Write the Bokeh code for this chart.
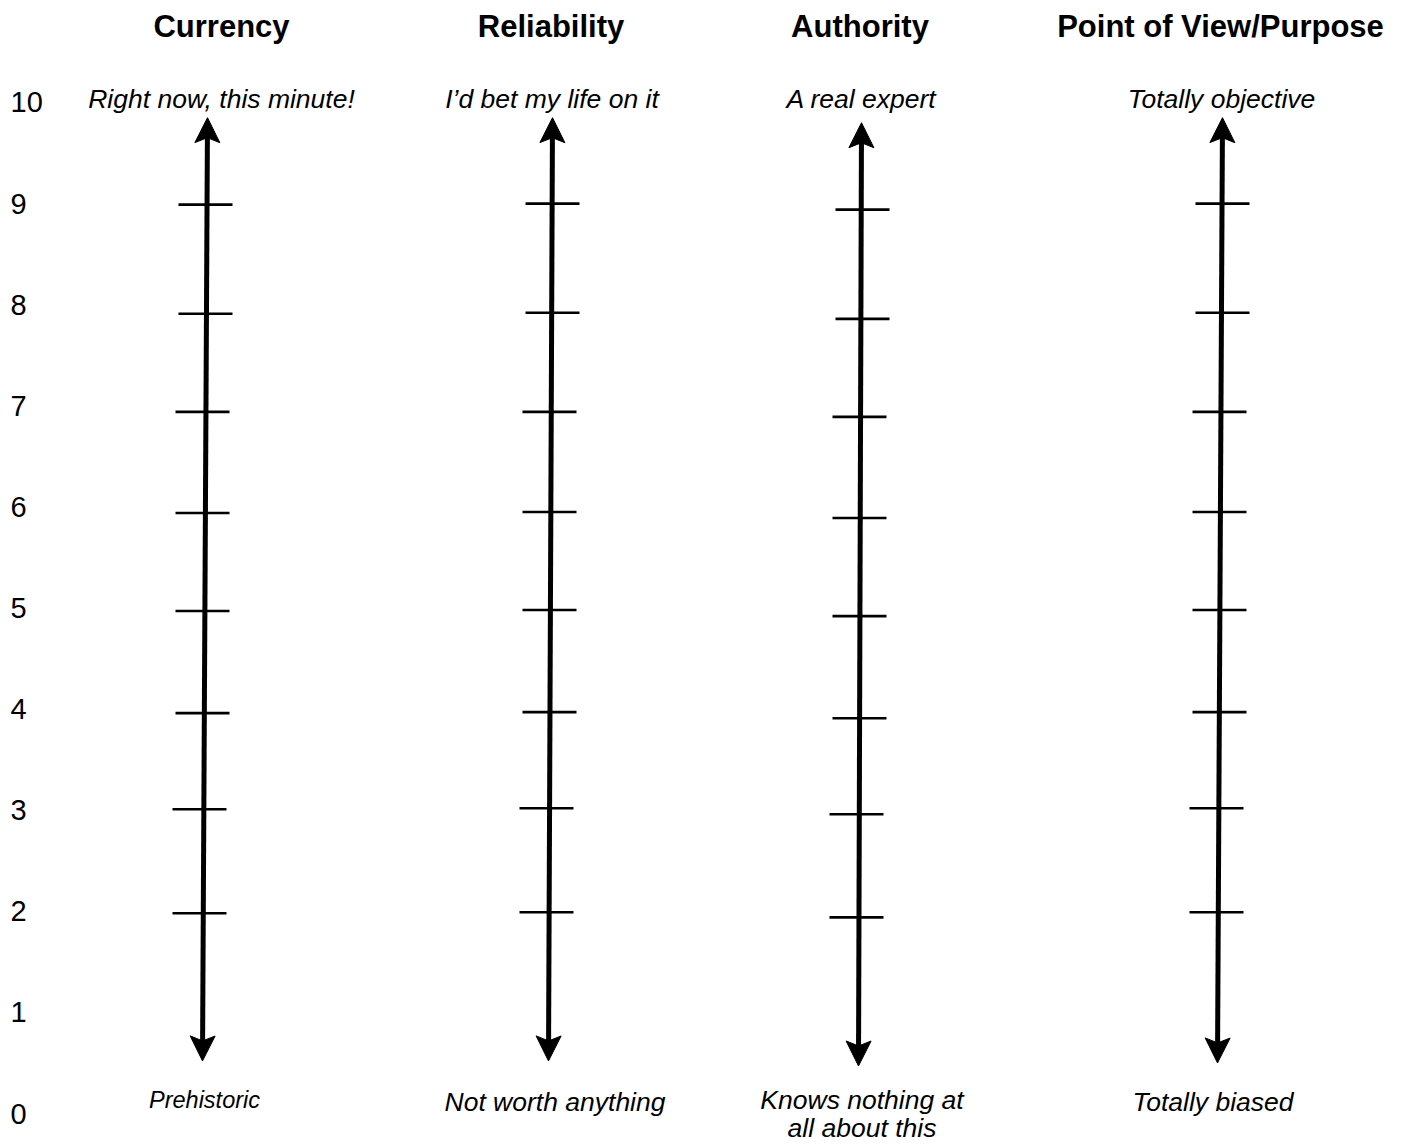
import numpy as np
from bokeh.plotting import figure
from bokeh.models import Range1d, ColumnDataSource
from bokeh.core.properties import value
from bokeh.embed import file_html
from bokeh.resources import INLINE

# ---------------- data ----------------
titles = ["Currency", "Reliability", "Authority", "Point of View/Purpose"]
title_x = [221, 550.5, 859.5, 1220]
title_v = [10.75, 10.75, 10.75, 10.75]

top_labels = ["Right now, this minute!", "I\u2019d bet my life on it", "A real expert", "Totally objective"]
top_label_x = [221, 551.5, 861, 1221]
top_label_v = [10.03, 10.03, 10.03, 10.03]

bottom_labels = ["Prehistoric", "Not worth anything", "Knows nothing at\nall about this", "Totally biased"]
bottom_label_x = [204, 554.5, 861.5, 1212.5]
bottom_label_v = [0.13, 0.11, 0.13, 0.11]
bottom_label_size = ["23.5px", "26.5px", "26.5px", "26.5px"]

scale_values = list(range(0, 11))
scale_labels = [str(v) for v in scale_values]

# arrow tips (x in page px, y in scale units)
arrow_top_x = [207, 552, 861, 1222]
arrow_top_v = [9.85, 9.85, 9.80, 9.85]
arrow_bottom_x = [202, 548, 858, 1217]
arrow_bottom_v = [0.52, 0.52, 0.47, 0.50]

# hand-drawn tick marks on each scale (levels 9 .. 2)
ticks_currency_v = [8.99, 7.91, 6.94, 5.94, 4.97, 3.96, 3.01, 1.98]
ticks_currency_x = [178, 178, 175, 175, 175, 175, 172, 172]
ticks_reliability_v = [9.00, 7.92, 6.94, 5.95, 4.98, 3.97, 3.02, 1.99]
ticks_reliability_x = [525, 525, 522, 522, 522, 522, 519, 519]
ticks_authority_v = [8.94, 7.86, 6.89, 5.89, 4.92, 3.91, 2.96, 1.94]
ticks_authority_x = [835, 835, 832, 832, 832, 832, 829, 829]
ticks_pov_v = [9.00, 7.92, 6.94, 5.95, 4.98, 3.97, 3.02, 1.99]
ticks_pov_x = [1195, 1195, 1192, 1192, 1192, 1192, 1189, 1189]
TICK_LEN = 54

# ---------------- figure ----------------
W, H = 1406, 1146
V_BOT, V_TOP = -0.3264, 11.0089
p = figure(width=W, height=H, x_range=Range1d(0, W), y_range=Range1d(V_BOT, V_TOP),
           output_backend="svg", toolbar_location=None, min_border=0,
           x_axis_type=None, y_axis_type=None)
p.outline_line_color = None
p.xgrid.visible = False
p.ygrid.visible = False
p.background_fill_color = "white"
p.border_fill_color = "white"

PPU = H / (V_TOP - V_BOT)  # pixels per scale unit
FONT = value("Liberation Sans")

# ticks
tx0, tx1, tv = [], [], []
for xs, vs in [(ticks_currency_x, ticks_currency_v), (ticks_reliability_x, ticks_reliability_v),
               (ticks_authority_x, ticks_authority_v), (ticks_pov_x, ticks_pov_v)]:
    for x, v in zip(xs, vs):
        tx0.append(x); tx1.append(x + TICK_LEN); tv.append(v)
p.segment(x0=tx0, y0=tv, x1=tx1, y1=tv, line_color="black", line_width=2.6)

# arrows
L, HW, N = 25.0, 12.5, 5.0
shaft_x0, shaft_y0, shaft_x1, shaft_y1 = [], [], [], []
head_xs, head_ys = [], []
for xt, vt, xb, vb in zip(arrow_top_x, arrow_top_v, arrow_bottom_x, arrow_bottom_v):
    ut, ub = vt * PPU, vb * PPU
    d = np.array([xt - xb, ut - ub]); d = d / np.linalg.norm(d)
    n = np.array([-d[1], d[0]])
    ends = []
    for tip, dirv in [(np.array([xt, ut]), d), (np.array([xb, ub]), -d)]:
        pts = [tip, tip - L * dirv + HW * n, tip - (L - N) * dirv, tip - L * dirv - HW * n]
        head_xs.append([q[0] for q in pts])
        head_ys.append([q[1] / PPU for q in pts])
        ends.append(tip - (L - N - 1) * dirv)
    shaft_x0.append(ends[0][0]); shaft_y0.append(ends[0][1] / PPU)
    shaft_x1.append(ends[1][0]); shaft_y1.append(ends[1][1] / PPU)
p.segment(x0=shaft_x0, y0=shaft_y0, x1=shaft_x1, y1=shaft_y1, line_color="black", line_width=5)
p.patches(xs=head_xs, ys=head_ys, fill_color="black", line_color="black", line_width=1)

# scale numbers
p.text(x=[10] * len(scale_values), y=scale_values, text=scale_labels, text_font=FONT,
       text_font_size="29px", text_align="left", text_baseline="middle", text_color="black")

# titles
p.text(x=title_x, y=title_v, text=titles, text_font=FONT, text_font_size="31px",
       text_font_style="bold", text_align="center", text_baseline="alphabetic", text_color="black")

# top labels
p.text(x=top_label_x, y=top_label_v, text=top_labels, text_font=FONT, text_font_size="26.5px",
       text_font_style="italic", text_align="center", text_baseline="alphabetic", text_color="black")

# bottom labels (split multi-line labels into rows)
LINE_GAP = 28.0
bx, bv, bt, bs = [], [], [], []
for lab, x, v, s in zip(bottom_labels, bottom_label_x, bottom_label_v, bottom_label_size):
    for i, line in enumerate(lab.split("\n")):
        bx.append(x); bv.append(v - i * LINE_GAP / PPU); bt.append(line); bs.append(s)
src = ColumnDataSource(dict(x=bx, y=bv, text=bt, size=bs))
p.text(x="x", y="y", text="text", source=src, text_font=FONT, text_font_size="size",
       text_font_style="italic", text_align="center", text_baseline="alphabetic", text_color="black")

open("out.html", "w").write(file_html(p, INLINE))
